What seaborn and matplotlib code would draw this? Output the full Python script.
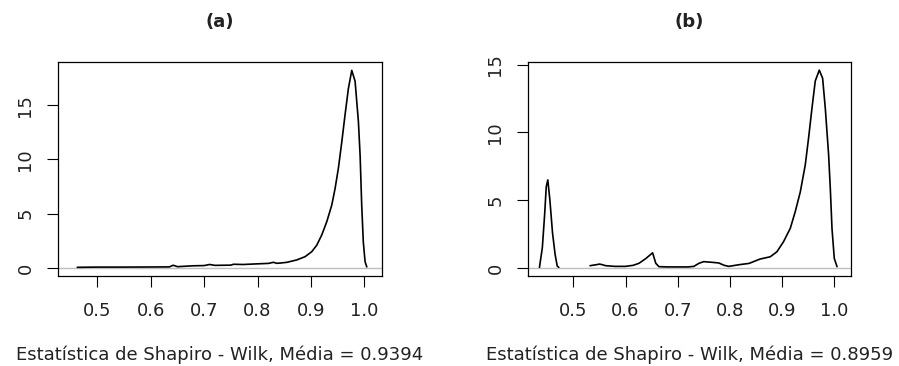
import matplotlib
matplotlib.use("Agg")
import matplotlib.pyplot as plt
import seaborn as sns
import pandas as pd

# ---- data ----
titles = ["(a)", "(b)"]
xlabels = ["Estatística de Shapiro - Wilk, Média = 0.9394",
           "Estatística de Shapiro - Wilk, Média = 0.8959"]
xticks = [0.5, 0.6, 0.7, 0.8, 0.9, 1.0]
xticklabels = ["0.5", "0.6", "0.7", "0.8", "0.9", "1.0"]
yticks = [0, 5, 10, 15]
yticklabels = ["0", "5", "10", "15"]

# panel (a) density curve
xa = [0.4625, 0.50, 0.55, 0.60, 0.635, 0.642, 0.650, 0.68, 0.70, 0.71, 0.72,
      0.75, 0.755, 0.773, 0.80, 0.82, 0.83, 0.836, 0.842, 0.855, 0.8734,
      0.889, 0.9015, 0.9109, 0.9202, 0.9296, 0.939, 0.9451, 0.9514, 0.9577,
      0.9638, 0.970, 0.9764, 0.9826, 0.9888, 0.992, 0.995, 0.998, 1.0013,
      1.0045]
ya = [0.06, 0.08, 0.08, 0.09, 0.10, 0.25, 0.12, 0.20, 0.22, 0.32, 0.24,
      0.26, 0.34, 0.32, 0.38, 0.42, 0.52, 0.43, 0.45, 0.52, 0.74,
      1.04, 1.5, 2.1, 3.04, 4.26, 5.8, 7.3, 9.2, 11.6,
      14.1, 16.5, 18.2, 17.2, 13.5, 10.4, 5.8, 2.4, 0.58,
      0.1]

# panel (b) density curve: two drawn pieces
xb1 = [0.435, 0.4405, 0.445, 0.448, 0.451, 0.455, 0.460, 0.465, 0.469, 0.472]
yb1 = [0.05, 1.5, 4.0, 6.0, 6.5, 5.0, 2.6, 1.0, 0.15, 0.05]
xb2 = [0.532, 0.545, 0.550, 0.555, 0.562, 0.58, 0.60, 0.615, 0.626, 0.639,
       0.652, 0.658, 0.664, 0.68, 0.70, 0.72, 0.731, 0.741, 0.750, 0.766,
       0.779, 0.789, 0.798, 0.819, 0.837, 0.858, 0.8776, 0.8904, 0.903,
       0.916, 0.9255, 0.9351, 0.9447, 0.9511, 0.9576, 0.9639, 0.9716,
       0.978, 0.9831, 0.9895, 0.9927, 0.996, 1.0004, 1.0056]
yb2 = [0.17, 0.25, 0.29, 0.25, 0.17, 0.12, 0.12, 0.20, 0.35, 0.70,
       1.12, 0.35, 0.10, 0.08, 0.08, 0.08, 0.12, 0.35, 0.47, 0.42,
       0.37, 0.20, 0.12, 0.25, 0.34, 0.66, 0.83, 1.2, 1.94,
       2.93, 4.16, 5.6, 7.6, 9.6, 11.8, 13.8, 14.6,
       14.0, 11.8, 8.35, 5.9, 2.9, 0.7, 0.1]

sns.set_theme(style="white")
plt.rcParams['font.family'] = ['DejaVu Sans']

W, H = 899, 366
fig = plt.figure(figsize=(W / 100, H / 100), dpi=100)

panels = [
    dict(rect=(58, 62, 382, 276), xlim=(0.4264, 1.033), ylim=(-0.74, 18.97),
         pieces=[(xa, ya)]),
    dict(rect=(528, 62, 851.3, 276), xlim=(0.413, 1.033), ylim=(-0.59, 15.2),
         pieces=[(xb1, yb1), (xb2, yb2)]),
]

for i, p in enumerate(panels):
    l, t, r, b = p["rect"]
    ax = fig.add_axes([l / W, 1 - b / H, (r - l) / W, (b - t) / H])
    ax.axhline(0, color="#bebebe", lw=1.0, zorder=1)
    for k, (xs, ys) in enumerate(p["pieces"]):
        df = pd.DataFrame({"x": xs, "y": ys})
        sns.lineplot(data=df, x="x", y="y", ax=ax, color="black", lw=1.2,
                     estimator=None, sort=False, zorder=2)
    ax.set_xlim(*p["xlim"])
    ax.set_ylim(*p["ylim"])
    ax.set_xticks(xticks)
    ax.set_xticklabels(xticklabels)
    ax.set_yticks(yticks)
    ax.set_yticklabels(yticklabels, rotation=90, va="center")
    ax.set_xlabel("")
    ax.set_ylabel("")
    ax.tick_params(axis="both", which="major", direction="out", length=8,
                   width=0.8, color="black", labelsize=13, labelcolor="#222222",
                   bottom=True, left=True)
    ax.tick_params(axis="x", pad=11)
    ax.tick_params(axis="y", pad=9)
    for s in ax.spines.values():
        s.set_color("black")
        s.set_linewidth(0.9)
        s.set_visible(True)
    cx = (l + r) / 2 / W
    fig.text(cx, 1 - 22 / H, titles[i], ha="center", va="center",
             fontsize=13, fontweight="bold", color="#222222")
    fig.text(cx, 1 - 355 / H, xlabels[i], ha="center", va="center",
             fontsize=13, color="#222222")

fig.savefig("out.png", dpi=100)
